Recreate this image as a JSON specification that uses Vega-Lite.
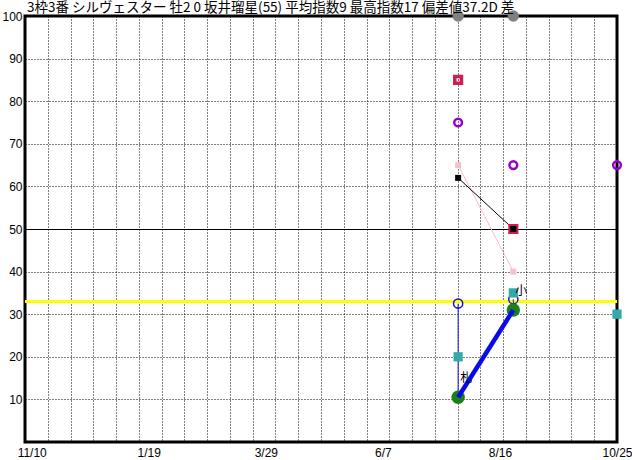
{
  "$schema": "https://vega.github.io/schema/vega-lite/v6.json",
  "width": 592,
  "height": 426,
  "autosize": {"type": "none"},
  "padding": {"left": 25, "top": 16, "right": 15, "bottom": 18},
  "background": "white",
  "config": {
    "view": {"stroke": "black", "strokeWidth": 3},
    "axis": {"labelFont": "Liberation Sans", "labelFontSize": 12, "labelColor": "black"}
  },
  "title": {
    "text": "3枠3番 シルヴェスター 牡2 0 坂井瑠星(55) 平均指数9 最高指数17 偏差値37.2D 差",
    "anchor": "start",
    "frame": "group",
    "offset": 3,
    "font": "Noto Sans CJK JP",
    "fontSize": 13.5,
    "fontWeight": "normal",
    "color": "black",
    "dx": 2,
    "dy": 7
  },
  "datasets": {
    "races": [
      {"date": "2024-07-22", "top": 100, "red": 85, "purple": 75, "pink": 65, "black": 62, "blue": 32.5, "teal": 20, "green": 10.5, "note": "札"},
      {"date": "2024-08-24", "top": 100, "red": 50, "purple": 65, "pink": 40, "black": 50, "blue": 33.5, "teal": 35, "green": 31, "note": "小"},
      {"date": "2024-10-25", "top": null, "red": null, "purple": 65, "pink": null, "black": null, "blue": null, "teal": 30, "green": null, "note": null}
    ],
    "ref": [{"hensachi": 33}]
  },
  "data": {"name": "races"},
  "layer": [
    {
      "data": {"name": "ref"},
      "mark": {"type": "rule", "color": "#ffff00", "strokeWidth": 3},
      "encoding": {
        "y": {
          "field": "hensachi", "type": "quantitative", "title": null,
          "scale": {"domain": [0, 100], "nice": false, "zero": true},
          "axis": {
            "values": [10, 20, 30, 40, 50, 60, 70, 80, 90, 100],
            "tickCount": 100,
            "grid": true, "gridColor": "black", "gridWidth": 1, "gridOpacity": 1,
            "gridDash": {"condition": {"test": "datum.value == 50", "value": []}, "value": [1, 2]},
            "domain": false, "ticks": false, "labelPadding": 3, "title": null
          }
        }
      }
    },
    {
      "mark": {"type": "line", "color": "#f4bcc8", "strokeWidth": 1},
      "encoding": {
        "x": {
          "field": "date", "type": "temporal", "title": null,
          "scale": {"type": "utc", "domain": [1699228800000, 1729814400000]},
          "axis": {
            "values": [1699574400000, 1700405169231, 1701581538462, 1702757907692, 1703934276923, 1705110646154, 1705622400000, 1706287015385, 1707463384615, 1708639753846, 1709816123077, 1710992492308, 1711670400000, 1712168861538, 1713345230769, 1714521600000, 1715697969231, 1716874338462, 1717718400000, 1718050707692, 1719227076923, 1720403446154, 1721579815385, 1722756184615, 1723766400000, 1723932553846, 1725108923077, 1726285292308, 1727461661538, 1728638030769, 1729814400000],
            "tickCount": 100,
            "grid": true, "gridColor": "black", "gridWidth": 1, "gridDash": [1, 2],
            "gridOpacity": {"condition": {"test": "indexof([1699574400000,1705622400000,1711670400000,1717718400000,1723766400000,1729814400000], time(datum.value)) >= 0", "value": 0}, "value": 1},
            "labelExpr": "indexof([1699574400000,1705622400000,1711670400000,1717718400000,1723766400000,1729814400000], time(datum.value)) >= 0 ? utcFormat(datum.value, '%-m/%-d') : ''",
            "ticks": false, "domain": false, "labelOverlap": false, "labelFlush": false, "labelBound": false,
            "labelAlign": "center", "labelPadding": 5, "title": null
          }
        },
        "y": {"field": "pink", "type": "quantitative", "title": null}
      }
    },
    {
      "mark": {"type": "line", "color": "black", "strokeWidth": 1},
      "encoding": {
        "x": {"field": "date", "type": "temporal", "title": null},
        "y": {"field": "black", "type": "quantitative", "title": null}
      }
    },
    {
      "mark": {"type": "rule", "color": "#1010dd", "strokeWidth": 1},
      "encoding": {
        "x": {"field": "date", "type": "temporal", "title": null},
        "y": {"field": "blue", "type": "quantitative", "title": null},
        "y2": {"field": "green"}
      }
    },
    {
      "mark": {"type": "point", "shape": "circle", "filled": true, "color": "#808080", "size": 130, "opacity": 1},
      "encoding": {
        "x": {"field": "date", "type": "temporal", "title": null},
        "y": {"field": "top", "type": "quantitative", "title": null}
      }
    },
    {
      "mark": {"type": "point", "shape": "square", "filled": false, "color": "#cc2050", "strokeWidth": 3.5, "size": 45, "opacity": 1},
      "encoding": {
        "x": {"field": "date", "type": "temporal", "title": null},
        "y": {"field": "red", "type": "quantitative", "title": null}
      }
    },
    {
      "mark": {"type": "point", "shape": "circle", "filled": false, "color": "#9900cc", "strokeWidth": 2.5, "size": 60, "opacity": 1},
      "encoding": {
        "x": {"field": "date", "type": "temporal", "title": null},
        "y": {"field": "purple", "type": "quantitative", "title": null}
      }
    },
    {
      "mark": {"type": "point", "shape": "square", "filled": true, "color": "#f8c0cc", "size": 36, "opacity": 1},
      "encoding": {
        "x": {"field": "date", "type": "temporal", "title": null},
        "y": {"field": "pink", "type": "quantitative", "title": null}
      }
    },
    {
      "mark": {"type": "point", "shape": "square", "filled": true, "color": "black", "size": 36, "opacity": 1},
      "encoding": {
        "x": {"field": "date", "type": "temporal", "title": null},
        "y": {"field": "black", "type": "quantitative", "title": null}
      }
    },
    {
      "mark": {"type": "point", "shape": "circle", "filled": false, "color": "#1010dd", "strokeWidth": 1.5, "size": 85, "opacity": 1},
      "encoding": {
        "x": {"field": "date", "type": "temporal", "title": null},
        "y": {"field": "blue", "type": "quantitative", "title": null}
      }
    },
    {
      "mark": {"type": "point", "shape": "square", "filled": true, "color": "#33aaaa", "size": 85, "opacity": 1},
      "encoding": {
        "x": {"field": "date", "type": "temporal", "title": null},
        "y": {"field": "teal", "type": "quantitative", "title": null}
      }
    },
    {
      "mark": {"type": "point", "shape": "circle", "filled": true, "color": "#1a801a", "size": 180, "opacity": 1},
      "encoding": {
        "x": {"field": "date", "type": "temporal", "title": null},
        "y": {"field": "green", "type": "quantitative", "title": null}
      }
    },
    {
      "mark": {"type": "line", "color": "#0a0ae8", "strokeWidth": 4.5},
      "encoding": {
        "x": {"field": "date", "type": "temporal", "title": null},
        "y": {"field": "green", "type": "quantitative", "title": null}
      }
    },
    {
      "mark": {"type": "text", "align": "left", "baseline": "middle", "dx": 2, "dy": -19, "font": "Noto Sans CJK JP", "fontSize": 12, "color": "black"},
      "encoding": {
        "x": {"field": "date", "type": "temporal", "title": null},
        "y": {"field": "green", "type": "quantitative", "title": null},
        "text": {"field": "note"}
      }
    }
  ]
}
